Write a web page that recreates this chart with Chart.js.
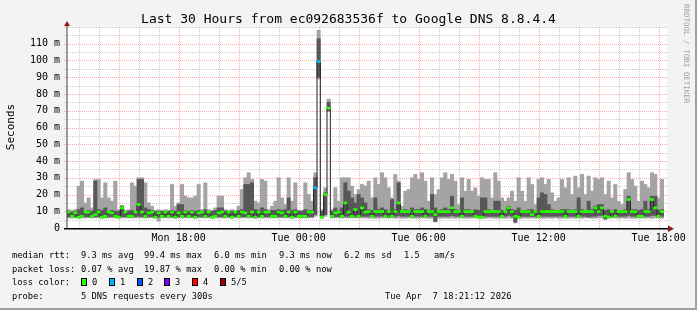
<!DOCTYPE html>
<html>
<head>
<meta charset="utf-8">
<title>Last 30 Hours from ec092683536f to Google DNS 8.8.4.4</title>
<script src="https://cdn.jsdelivr.net/npm/chart.js@4/dist/chart.umd.min.js"></script>
<style>
  html, body { margin: 0; padding: 0; background: #f3f3f3; }
  canvas { display: block; }
</style>
</head>
<body>
<canvas id="canvas" width="697" height="310"></canvas>
<script>
// 10 minute bins, first bin starts Mon 12:25 (x axis is minutes since then)
const stepMinutes = 10;

// the 5 sorted pings of each bin (ms): min, 2nd, median, 4th, max
const pingMin = [
  6, 6, 6, 5.8, 6, 6, 6, 6, 6, 6,
  5.8, 6, 6, 6, 6, 5.8, 6, 6, 6, 6,
  6, 6, 6, 6, 6, 6, 5.8, 4, 6, 6,
  6, 6, 5.8, 6, 6, 6, 6, 6, 5.8, 6,
  6, 6, 6, 5.8, 6, 6, 6, 6, 6, 5.8,
  6, 6, 6, 6, 6, 6, 5.8, 6, 6, 6,
  6, 6, 6, 6, 6, 6, 6, 5.8, 6, 6,
  6, 6, 6, 6, 7, 89, 5.8, 7, 69.5, 6,
  6, 6, 6, 6, 6, 6, 6, 6, 6, 6,
  5.8, 6, 5.8, 5.8, 6, 6, 5.8, 6, 5.8, 6,
  5.8, 5.8, 6, 6, 5.8, 5.8, 6, 6, 5.8, 5.8,
  3.5, 5.8, 5.8, 6, 5.8, 6, 5.8, 6, 6, 5.8,
  5.8, 6, 6, 5.8, 5.8, 5.8, 6, 6, 5.8, 5.8,
  6, 5.8, 6, 5.8, 3, 5.8, 5.8, 6, 5.8, 6,
  5.8, 6, 5.8, 5.8, 6, 5.8, 6, 5.8, 5.8, 6,
  5.8, 6, 5.8, 6, 5.8, 6, 6, 5.8, 5.8, 6,
  6, 5, 5.8, 6, 6, 5.8, 6, 5.8, 6, 5.8,
  5.8, 6, 6, 5.8, 6, 5.8, 6, 6, 5.8
];
const pingLow = [
  6.8, 6.5, 6.8, 6.2, 6.5, 6.8, 6.8, 6.5, 6.8, 6.8,
  6.2, 6.5, 6.8, 6.8, 6.5, 6.2, 6.8, 6.8, 6.5, 6.5,
  6.8, 7, 6.8, 6.5, 6.8, 6.8, 6.2, 6.5, 6.5, 6.8,
  6.5, 6.8, 6.2, 6.8, 6.5, 6.8, 6.5, 6.8, 6.2, 6.8,
  6.8, 6.5, 6.8, 6.2, 6.5, 6.8, 6.8, 6.5, 6.8, 6.2,
  6.8, 6.5, 6.8, 6.8, 6.5, 6.8, 6.2, 6.8, 6.5, 6.8,
  6.8, 6.5, 6.5, 6.8, 6.8, 6.5, 6.8, 6.2, 6.8, 6.5,
  6.5, 6.5, 6.8, 6.8, 8, 90, 6.2, 8, 70, 6.5,
  6.8, 6.8, 6.5, 7, 7, 6.5, 7, 6.5, 7, 7,
  7, 6.5, 7, 7, 7, 6.5, 7, 6.5, 7, 7.5,
  7, 7, 7, 6.5, 7, 7, 7, 6.5, 7, 7,
  4, 7, 7, 7, 7, 7.5, 7, 7, 6.5, 7,
  7, 7, 6.5, 6.2, 6.2, 7, 7, 7, 7, 7,
  6.5, 7, 7.5, 7, 3.5, 6.2, 7, 7, 7, 6.8,
  7, 6.5, 7, 7, 7, 7, 7, 7, 7, 6.5,
  7, 7, 7, 6.5, 7, 7, 6.5, 7, 7, 7.5,
  7.5, 5.5, 6.2, 7, 6.5, 7, 7, 7, 7.5, 7,
  7, 6.5, 6.5, 7, 7, 7.5, 7.5, 6.5, 7
];
const median = [
  9.5, 7, 9, 6.5, 7, 9.5, 9.5, 7, 8, 9.5,
  6.5, 7, 9.5, 9, 7, 6.5, 12, 9.5, 7, 7,
  9.5, 14, 9.5, 7, 9, 9.5, 6.5, 9, 7, 9.5,
  7, 9.5, 6.5, 9, 7, 9.5, 7, 9.5, 6.5, 9,
  9.5, 7, 9.5, 6.5, 7, 9, 9.5, 7, 9.5, 6.5,
  9.5, 7, 9.5, 9, 7, 9.5, 6.5, 9.5, 7, 9.5,
  9.5, 7, 7, 9.5, 9, 7, 9.5, 6.5, 9.5, 7,
  7, 7, 9.5, 9.5, 24, 99.4, 6.5, 20, 71.5, 7,
  9, 9.5, 7, 15, 9.5, 7, 11, 7, 12, 9.5,
  9.8, 7, 9.8, 9.8, 9.8, 7, 9.8, 7, 9.8, 15,
  9.8, 9.8, 9.8, 7, 9.8, 9.8, 9.8, 7, 9.8, 9.8,
  8, 9.8, 9.8, 9.8, 9.8, 12, 9.8, 9.8, 7, 9.8,
  9.8, 9.8, 7, 6.5, 6.5, 9.8, 9.8, 9.8, 9.8, 9.8,
  7, 9.8, 12, 9.8, 7, 6.5, 9.8, 9.8, 9.8, 8,
  9.8, 7, 9.8, 9.8, 9.8, 9.8, 9.8, 9.8, 9.8, 7,
  9.8, 9.8, 9.8, 7, 9.8, 9.8, 9.8, 9.8, 12, 9.8,
  12, 7, 6.5, 9.8, 7, 9.8, 9.8, 9.8, 17, 9.8,
  9.8, 7, 7, 9.8, 9.8, 17, 12, 7, 9.8
];
const pingHigh = [
  10, 9.5, 10, 11, 12, 10, 10.5, 10, 28, 11,
  10.5, 12, 10, 10.5, 10, 10, 13, 10, 10, 10.5,
  10, 29, 29, 12, 11, 10.5, 10, 10, 10, 10,
  10, 10.5, 10, 14, 14, 10.5, 10, 10.5, 10, 10.5,
  10, 11, 10, 10, 10.5, 12, 12, 10, 10, 10,
  10, 10.5, 11, 26, 26, 27, 11, 10.5, 12, 11,
  10, 10.5, 10.5, 11, 10.5, 11, 18, 10.5, 11, 10,
  10, 11, 10.5, 10.5, 30, 113, 10, 21, 75, 10,
  12, 10.5, 12, 27, 22, 18, 15, 20, 18, 15,
  11, 10.5, 18, 11, 12, 11, 10.5, 17, 11, 27,
  10.5, 11, 10.5, 12, 11, 11, 12, 11, 10.5, 20,
  12, 10.5, 11, 12, 11, 19, 11, 10.5, 18, 11,
  11, 10.5, 11, 10.5, 18, 18, 11, 10.5, 16, 16,
  10.5, 10.5, 13, 11, 10.5, 12, 10.5, 10.5, 11, 11,
  10.5, 18, 21, 20, 14, 11, 10.5, 10.5, 11, 11,
  11, 10.5, 11, 18, 11, 10.5, 16, 11, 13, 14,
  14, 10.5, 11, 10.5, 11, 10.5, 10.5, 11, 19, 11,
  11, 10.5, 11, 16, 11, 19, 19, 10.5, 11
];
const pingMax = [
  11, 10.5, 11, 25, 28, 15, 18, 12, 29, 29,
  18, 27, 18, 16, 28, 11, 13.5, 10.5, 11, 27,
  25, 30, 30, 27, 15, 13, 10.5, 11, 10.5, 11,
  10.5, 26, 13, 15, 26, 19, 18, 18, 19, 26,
  11, 27, 11, 10.5, 12, 19, 19, 11, 10.5, 11,
  10.5, 13, 23, 30, 33, 29, 16, 15, 29, 28,
  11, 13, 16, 30, 18, 14, 30, 16, 27, 10.5,
  10.5, 27, 20, 16, 33, 118, 11, 24, 77, 11,
  24, 16, 30, 30, 30, 25, 20, 23, 26, 25,
  28, 18, 30, 26, 33, 30, 24, 18, 32, 28,
  13, 22, 23, 30, 32, 29, 33, 28, 16, 30,
  20, 23, 30, 33, 29, 32, 28, 14, 30, 22,
  29, 22, 24, 19, 30, 29, 29, 18, 33, 28,
  18, 16, 18, 22, 16, 30, 22, 16, 30, 26,
  14, 29, 30, 26, 29, 21, 16, 18, 29, 24,
  30, 20, 31, 24, 32, 20, 31, 22, 30, 29,
  30, 20, 28, 18, 26, 16, 14, 23, 33, 29,
  25, 16, 28, 26, 24, 33, 32, 18, 29
];

// bins where pings were lost (how many of 5)
const lossBins = [74, 75];
const lossCount = [1, 1];
const lossColors = ['#26ff00', '#00b8ff', '#0059ff', '#7e00ff', '#ff0000', '#a10000'];
const lossNames = ['0', '1', '2', '3', '4', '5/5'];

const xTickMinutes = [335, 695, 1055, 1415, 1775];
const xTickLabels = ['Mon 18:00', 'Tue 00:00', 'Tue 06:00', 'Tue 12:00', 'Tue 18:00'];

// legend text rows: [x, text]
const legendRows = [
  [[12, 'median rtt:'], [81, '9.3 ms avg'], [144, '99.4 ms max'], [214, '6.0 ms min'], [279, '9.3 ms now'], [344, '6.2 ms sd'], [404, '1.5'], [434, 'am/s']],
  [[12, 'packet loss:'], [81, '0.07 % avg'], [144, '19.87 % max'], [214, '0.00 % min'], [279, '0.00 % now']],
  [[12, 'loss color:']],
  [[12, 'probe:'], [81, '5 DNS requests every 300s'], [385, 'Tue Apr  7 18:21:12 2026']]
];

const times = median.map((_, i) => stepMinutes / 2 + i * stepMinutes);
const lossOf = i => { const k = lossBins.indexOf(i); return k < 0 ? 0 : lossCount[k]; };

const outerSmoke = times.map((t, i) => ({ x: t, y: [pingMin[i], pingMax[i]] }));
const innerSmoke = times.map((t, i) => ({ x: t, y: [pingLow[i], pingHigh[i]] }));
const medianLine = times.map((t, i) => ({ x: t, y: median[i] }));
const medianMarks = times.map((t, i) => ({ x: t, y: [median[i] - 0.6, median[i] + 0.6] }));

const FONT = "'DejaVu Sans Mono', 'Liberation Mono', monospace";
Chart.defaults.font.family = FONT;

// rrdtool look: grey background, white canvas, dotted grid, arrows and text
const rrdLook = {
  id: 'rrdLook',
  beforeDraw(chart) {
    const { ctx, chartArea: a, width, height } = chart;
    ctx.save();
    ctx.fillStyle = '#f3f3f3';
    ctx.fillRect(0, 0, width, height);
    ctx.fillStyle = '#a0a0a0';
    ctx.fillRect(0, height - 2, width, 2);
    ctx.fillRect(width - 2, 0, 2, height);
    ctx.fillStyle = '#ffffff';
    ctx.fillRect(a.left, a.top, a.right - a.left, a.bottom - a.top);
    ctx.restore();
  },
  beforeDatasetsDraw(chart) {
    const { ctx, chartArea: a, scales: { x, y } } = chart;
    ctx.save();
    ctx.lineWidth = 1;
    ctx.setLineDash([1, 1]);
    const line = (x1, y1, x2, y2, c) => {
      ctx.strokeStyle = c;
      ctx.beginPath(); ctx.moveTo(x1, y1); ctx.lineTo(x2, y2); ctx.stroke();
    };
    const gray = '#cccccc', red = 'rgba(255,60,60,0.45)';
    // minor grid
    for (let m = 35; m < 1800; m += 60) {
      if ((m - 155) % 180 === 0) continue;
      const px = Math.round(x.getPixelForValue(m)) + 0.5;
      line(px, a.top, px, a.bottom, gray);
    }
    for (let v = 5; v <= 120; v += 10) {
      const py = Math.round(y.getPixelForValue(v)) + 0.5;
      line(a.left - 3, py, a.right, py, gray);
    }
    line(a.left - 3, a.top + 0.5, a.right, a.top + 0.5, gray);
    // major grid
    for (let m = 155; m < 1800; m += 180) {
      const px = Math.round(x.getPixelForValue(m)) + 0.5;
      line(px, a.top, px, a.bottom, red);
    }
    for (let v = 10; v <= 110; v += 10) {
      const py = Math.round(y.getPixelForValue(v)) + 0.5;
      line(a.left - 3, py, a.right, py, red);
    }
    ctx.restore();
  },
  afterDatasetsDraw(chart) {
    const { ctx, chartArea: a } = chart;
    ctx.save();
    ctx.fillStyle = '#404040';
    ctx.fillRect(a.left - 0.5, a.top - 2, 1, a.bottom - a.top + 3);
    ctx.fillStyle = '#000000';
    ctx.fillRect(a.left - 3, a.bottom, a.right - a.left + 5, 1.5);
    ctx.fillStyle = '#8b1a1a';
    ctx.beginPath();
    ctx.moveTo(a.left, a.top - 6); ctx.lineTo(a.left - 3, a.top - 1); ctx.lineTo(a.left + 3, a.top - 1);
    ctx.closePath(); ctx.fill();
    ctx.beginPath();
    ctx.moveTo(a.right + 7, a.bottom + 0.75); ctx.lineTo(a.right + 1, a.bottom - 2.5); ctx.lineTo(a.right + 1, a.bottom + 4);
    ctx.closePath(); ctx.fill();
    ctx.restore();
  },
  afterDraw(chart) {
    const { ctx, width } = chart;
    ctx.save();
    ctx.fillStyle = '#000000';
    ctx.textBaseline = 'alphabetic';
    ctx.font = '13px ' + FONT;
    ctx.textAlign = 'center';
    ctx.fillText('Last 30 Hours from ec092683536f to Google DNS 8.8.4.4', width / 2, 23);

    ctx.save();
    ctx.translate(14, 127);
    ctx.rotate(-Math.PI / 2);
    ctx.font = '11px ' + FONT;
    ctx.fillText('Seconds', 0, 0);
    ctx.restore();

    ctx.save();
    ctx.translate(684, 4);
    ctx.rotate(Math.PI / 2);
    ctx.textAlign = 'left';
    ctx.font = '7.5px ' + FONT;
    ctx.fillStyle = '#a0a0a0';
    ctx.fillText('RRDTOOL / TOBI OETIKER', 0, 0);
    ctx.restore();

    ctx.textAlign = 'left';
    ctx.font = '8.75px ' + FONT;
    const baselines = [258, 271.7, 285.4, 299];
    legendRows.forEach((row, r) => {
      row.forEach(([x, s]) => ctx.fillText(s, x, baselines[r]));
    });
    const boxX = [81, 109, 137, 164, 192, 220];
    lossColors.forEach((c, i) => {
      ctx.fillStyle = c;
      ctx.fillRect(boxX[i], 278, 6, 8);
      ctx.strokeStyle = '#000000';
      ctx.lineWidth = 1;
      ctx.strokeRect(boxX[i] + 0.5, 278.5, 5, 7);
      ctx.fillStyle = '#000000';
      ctx.fillText(lossNames[i], boxX[i] + 11, baselines[2]);
    });
    ctx.restore();
  }
};

const config = {
  type: 'bar',
  data: {
    datasets: [
      {
        label: 'ping min-max',
        data: outerSmoke,
        backgroundColor: '#a4a4a4',
        borderWidth: 0,
        grouped: false,
        barPercentage: 1,
        categoryPercentage: 1,
        order: 5
      },
      {
        label: 'ping 2nd-4th',
        data: innerSmoke,
        backgroundColor: '#585858',
        borderWidth: 0,
        grouped: false,
        barPercentage: 1,
        categoryPercentage: 1,
        order: 4
      },
      {
        type: 'line',
        label: 'median rtt',
        data: medianLine,
        borderColor: '#202020',
        borderWidth: 1,
        pointRadius: 0,
        stepped: 'middle',
        order: 3
      },
      {
        label: 'loss color',
        data: medianMarks,
        backgroundColor: times.map((_, i) => lossColors[lossOf(i)]),
        borderWidth: 0,
        grouped: false,
        barPercentage: 1,
        categoryPercentage: 1,
        order: 2
      }
    ]
  },
  options: {
    responsive: false,
    devicePixelRatio: 1,
    animation: false,
    events: [],
    layout: { padding: { left: 0, right: 30, top: 27, bottom: 0 } },
    plugins: { legend: { display: false }, tooltip: { enabled: false }, title: { display: false } },
    scales: {
      x: {
        type: 'linear',
        min: 0,
        max: 1800,
        offset: false,
        grid: { display: false, drawTicks: false },
        border: { display: false },
        afterBuildTicks: scale => { scale.ticks = xTickMinutes.map(v => ({ value: v })); },
        afterFit: scale => { scale.height = 82; },
        ticks: {
          autoSkip: false,
          maxRotation: 0,
          padding: 4,
          color: '#000000',
          font: { size: 10 },
          callback: (v, i) => xTickLabels[i]
        }
      },
      y: {
        min: 0,
        max: 120,
        grid: { display: false, drawTicks: false },
        border: { display: false },
        afterFit: scale => { scale.width = 67; },
        ticks: {
          stepSize: 10,
          padding: 7,
          color: '#000000',
          font: { size: 10 },
          callback: v => (v === 120 ? '' : v === 0 ? '0' : v + ' m')
        }
      }
    }
  },
  plugins: [rrdLook]
};

const canvas = document.getElementById('canvas');
const chart = new Chart(canvas, config);
</script>
</body>
</html>
